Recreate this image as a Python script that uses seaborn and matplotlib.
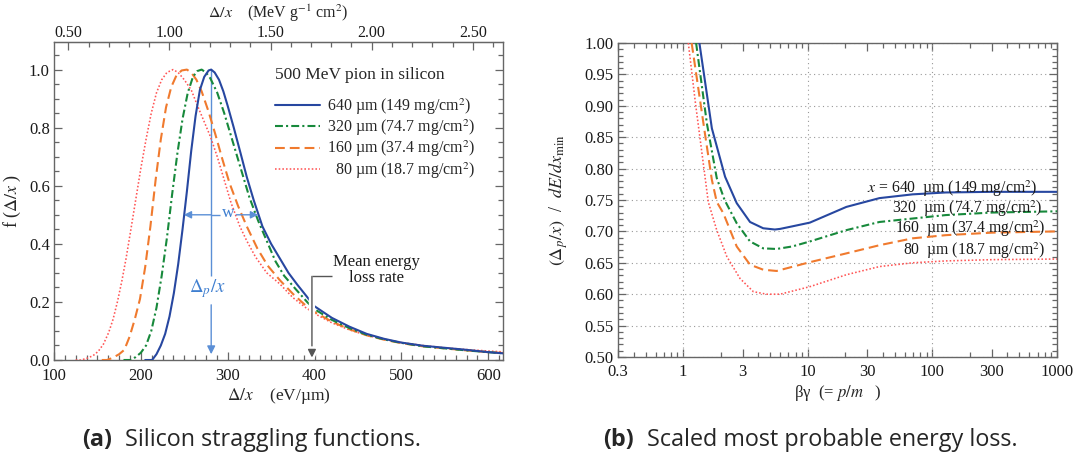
import numpy as np
import pandas as pd
import matplotlib
matplotlib.use("Agg")
import matplotlib.pyplot as plt
import matplotlib.ticker as mticker
import matplotlib.patheffects as pe
import seaborn as sns

# ---------------- Panel (a): straggling functions f(Delta/x) ----------------
thick_labels = ["640 µm (149 mg/cm$^2$)", "320 µm (74.7 mg/cm$^2$)",
                "160 µm (37.4 mg/cm$^2$)", "  80 µm (18.7 mg/cm$^2$)"]

a640_x = [205, 213, 218, 223, 228, 233, 238, 243, 248, 253, 258, 263, 268, 273, 278, 281,
          285, 290, 295, 300, 307, 315, 322, 330, 340, 350, 360, 370, 380, 392, 400, 420,
          440, 460, 480, 500, 525, 550, 575, 600, 617]
a640_f = [0.0, 0.0, 0.02, 0.05, 0.09, 0.15, 0.23, 0.33, 0.45, 0.58, 0.72, 0.84, 0.93, 0.975, 0.997, 1.0,
          0.99, 0.965, 0.925, 0.875, 0.80, 0.71, 0.63, 0.55, 0.46, 0.40, 0.35, 0.30, 0.26, 0.215, 0.185, 0.145,
          0.115, 0.09, 0.073, 0.06, 0.049, 0.042, 0.035, 0.027, 0.023]

a320_x = [180, 188, 194, 200, 206, 212, 218, 224, 230, 236, 242, 248, 254, 260, 265, 270, 275,
          280, 288, 296, 305, 315, 325, 335, 345, 355, 365, 378, 392, 400, 420, 440, 460, 480,
          500, 525, 550, 575, 600, 617]
a320_f = [0.0, 0.0, 0.01, 0.025, 0.05, 0.10, 0.18, 0.29, 0.42, 0.57, 0.71, 0.83, 0.92, 0.975, 0.995, 1.0, 0.99,
          0.97, 0.92, 0.85, 0.76, 0.66, 0.56, 0.48, 0.41, 0.34, 0.29, 0.245, 0.198, 0.175, 0.138, 0.11, 0.087, 0.071,
          0.059, 0.047, 0.04, 0.033, 0.027, 0.023]

a160_x = [155, 161, 168, 175, 181, 187, 193, 199, 205, 211, 217, 223, 229, 235, 241, 247, 253,
          258, 264, 270, 278, 286, 294, 302, 312, 322, 334, 346, 360, 375, 390, 400, 420, 440,
          460, 480, 500, 525, 550, 575, 600, 617]
a160_f = [0.0, 0.0, 0.008, 0.02, 0.035, 0.08, 0.14, 0.21, 0.32, 0.46, 0.62, 0.76, 0.87, 0.94, 0.98, 0.997, 1.0,
          0.99, 0.965, 0.925, 0.855, 0.775, 0.69, 0.61, 0.53, 0.46, 0.385, 0.325, 0.275, 0.228, 0.187, 0.165, 0.132,
          0.106, 0.085, 0.07, 0.058, 0.047, 0.04, 0.033, 0.027, 0.024]

a80_x = [125, 131, 138, 145, 151, 157, 163, 168, 173, 178, 183, 188, 194, 200, 206, 212, 218,
         224, 230, 237, 243, 250, 258, 266, 273, 280, 288, 296, 304, 314, 322, 332, 345, 360,
         375, 390, 400, 420, 440, 460, 480, 500, 525, 550, 575, 600, 617]
a80_f = [0.0, 0.0, 0.006, 0.015, 0.03, 0.055, 0.095, 0.14, 0.20, 0.27, 0.35, 0.44, 0.55, 0.66, 0.76, 0.85, 0.92,
         0.965, 0.99, 1.0, 0.99, 0.965, 0.93, 0.87, 0.82, 0.77, 0.70, 0.62, 0.54, 0.46, 0.41, 0.355, 0.30, 0.262,
         0.215, 0.18, 0.16, 0.128, 0.104, 0.085, 0.071, 0.06, 0.05, 0.042, 0.036, 0.031, 0.028]

mean_loss = 397          # eV/um, mean energy loss rate marker
w_left, w_right = 249.5, 335   # FWHM edges of the 640 um curve

# ---------------- Panel (b): scaled most probable energy loss ----------------
b640_x = [1.35, 1.70, 2.17, 2.69, 3.44, 4.39, 5.44, 6.0, 7.5, 10.4, 20.4, 37.6, 69.5, 128, 300, 558, 1000]
b640_y = [1.0, 0.864, 0.787, 0.745, 0.715, 0.705, 0.703, 0.704, 0.708, 0.714, 0.739, 0.753, 0.759, 0.762, 0.763, 0.763, 0.763]

b320_x = [1.27, 1.55, 1.86, 2.15, 2.69, 3.44, 4.39, 5.62, 7.5, 10.4, 20.4, 37.6, 128, 300, 1000]
b320_y = [1.0, 0.872, 0.785, 0.75, 0.713, 0.684, 0.673, 0.672, 0.676, 0.684, 0.702, 0.715, 0.726, 0.730, 0.732]

b160_x = [1.17, 1.50, 1.70, 1.86, 2.10, 2.69, 3.44, 4.39, 5.62, 10.4, 20.4, 37.6, 69.5, 128, 300, 1000]
b160_y = [1.0, 0.854, 0.782, 0.747, 0.729, 0.676, 0.647, 0.639, 0.637, 0.651, 0.665, 0.678, 0.689, 0.694, 0.698, 0.700]

b80_x = [1.10, 1.25, 1.41, 1.59, 1.86, 2.24, 2.86, 3.66, 4.67, 6.0, 10.4, 20.4, 37.6, 69.5, 128, 300, 1000]
b80_y = [1.0, 0.907, 0.827, 0.747, 0.702, 0.660, 0.625, 0.604, 0.600, 0.600, 0.612, 0.631, 0.644, 0.650, 0.653, 0.655, 0.656]

b_labels = ["$x$ = 640  µm (149 mg/cm$^2$)", "320  µm (74.7 mg/cm$^2$)",
            "160  µm (37.4 mg/cm$^2$)", "80  µm (18.7 mg/cm$^2$)"]

# ---------------- styles ----------------
colors = ["#2747a0", "#17893b", "#f07a2e", "#ff5555"]
styles = ["-", (0, (3.8, 1.5, 1.0, 1.5)), (0, (4.7, 2.4)), (0, (1.0, 1.3))]
widths = [1.5, 1.5, 1.5, 1.15]
light_blue = "#5b8fd6"
gray = "#555555"

sns.set_style("ticks")
plt.rcParams['font.family'] = ['Liberation Serif', 'DejaVu Serif']
plt.rcParams['mathtext.fontset'] = 'stix'
plt.rcParams['axes.edgecolor'] = '#666666'
plt.rcParams['xtick.color'] = '#666666'
plt.rcParams['ytick.color'] = '#666666'
plt.rcParams['xtick.labelcolor'] = '#1a1a1a'
plt.rcParams['ytick.labelcolor'] = '#1a1a1a'

fig = plt.figure(figsize=(10.74, 4.54), dpi=100)
axA = fig.add_axes([54 / 1074, 1 - 360 / 454, 449 / 1074, 318 / 454])
axB = fig.add_axes([618 / 1074, 1 - 357 / 454, 439 / 1074, 314 / 454])

TICK = 12

# ---------- panel (a) ----------
a_series = [(a640_x, a640_f), (a320_x, a320_f), (a160_x, a160_f), (a80_x, a80_f)]
for i in [3, 2, 1, 0]:
    x, f = a_series[i]
    sns.lineplot(x=x, y=f, ax=axA, color=colors[i], linestyle=styles[i], lw=widths[i],
                 sort=True, estimator=None, zorder=3 + (3 - i))
lines = axA.get_lines()
handles = [lines[3], lines[2], lines[1], lines[0]]

axA.set_xlim(100, 617)
axA.set_ylim(0, 1.095)
axA.xaxis.set_major_locator(mticker.MultipleLocator(100))
axA.xaxis.set_minor_locator(mticker.MultipleLocator(12.5))
axA.yaxis.set_major_locator(mticker.MultipleLocator(0.2))
axA.yaxis.set_minor_locator(mticker.MultipleLocator(0.05))
axA.yaxis.set_major_formatter(mticker.FormatStrFormatter('%.1f'))
axA.tick_params(which='both', direction='in', top=False, right=True, labelsize=TICK, width=0.9)
axA.tick_params(which='major', length=6, pad=3)
axA.tick_params(axis='x', which='major', pad=6)
axA.tick_params(which='minor', length=3.5)
for s in axA.spines.values():
    s.set_linewidth(1.0)
axA.set_xlabel(r"$\Delta/x$    (eV/µm)", fontsize=12.5, labelpad=1)
axA.set_ylabel(r"f ($\Delta/x$ )", fontsize=13)
axA.yaxis.set_label_coords(-0.07, 0.5)

conv = 0.01 / 2.329  # eV/um -> MeV g^-1 cm^2 in silicon
sec = axA.secondary_xaxis('top', functions=(lambda d: d * conv, lambda m: m / conv))
sec.xaxis.set_major_locator(mticker.FixedLocator([0.5, 1.0, 1.5, 2.0, 2.5]))
sec.xaxis.set_minor_locator(mticker.FixedLocator([v / 10 for v in range(5, 27)]))
sec.xaxis.set_major_formatter(mticker.FormatStrFormatter('%.2f'))
sec.tick_params(which='both', direction='in', labelsize=11.5, width=0.9)
sec.tick_params(which='major', length=6, pad=1)
sec.tick_params(which='minor', length=3.5)
sec.set_xlabel(r"$\Delta/x$    (MeV g$^{-1}$ cm$^{2}$)", fontsize=11.5, labelpad=5)

leg = axA.legend(handles, thick_labels, title="500 MeV pion in silicon", loc='upper left',
                 bbox_to_anchor=(0.493, 0.92), frameon=False, fontsize=11.5, title_fontsize=12.5,
                 handlelength=2.8, handletextpad=0.45, labelspacing=0.05, alignment='left',
                 borderaxespad=0, borderpad=0)
leg._legend_box.sep = 9

# most probable value arrow and width
peak = a640_x[int(np.argmax(a640_f))]
axA.vlines(peak, 0.29, max(a640_f), color=light_blue, lw=1.0, zorder=2)
axA.annotate("", xy=(peak, 0.02), xytext=(peak, 0.19),
             arrowprops=dict(arrowstyle='-|>', color=light_blue, lw=1.0, mutation_scale=12,
                             shrinkA=0, shrinkB=0), zorder=8)
axA.text(peak - 4, 0.245, r"$\Delta_p/x$", color="#3f7fd0", fontsize=13.5, ha='center', va='center')
axA.annotate("", xy=(w_left, 0.5), xytext=(peak, 0.5),
             arrowprops=dict(arrowstyle='-|>', color=light_blue, lw=1.0, mutation_scale=11,
                             shrinkA=0, shrinkB=0), zorder=8)
axA.hlines(0.5, peak, 291, color=light_blue, lw=1.0, zorder=8)
axA.text(300.5, 0.505, "w", color="#3f7fd0", fontsize=12.5, ha='center', va='center')
axA.annotate("", xy=(w_right, 0.5), xytext=(310, 0.5),
             arrowprops=dict(arrowstyle='-|>', color=light_blue, lw=1.0, mutation_scale=11,
                             shrinkA=0, shrinkB=0), zorder=8)

# mean energy loss arrow
white_gap = [pe.Stroke(linewidth=4.5, foreground='white'), pe.Normal()]
axA.annotate("", xy=(mean_loss, 0.008), xytext=(mean_loss, 0.288),
             arrowprops=dict(arrowstyle='-|>', color=gray, lw=1.0, mutation_scale=12,
                             shrinkA=0, shrinkB=0, path_effects=white_gap), zorder=9)
axA.hlines(0.288, mean_loss, 420, color=gray, lw=1.0, zorder=9)
axA.text(471, 0.31, "Mean energy\nloss rate", fontsize=12, ha='center', va='center',
         linespacing=0.95, color='#1a1a1a')

# ---------- panel (b) ----------
b_series = [(b640_x, b640_y), (b320_x, b320_y), (b160_x, b160_y), (b80_x, b80_y)]
for i in [3, 2, 1, 0]:
    x, y = b_series[i]
    sns.lineplot(x=x, y=y, ax=axB, color=colors[i], linestyle=styles[i], lw=widths[i],
                 sort=True, estimator=None, zorder=3 + (3 - i))

axB.set_xscale('log')
axB.set_xlim(0.3, 1000)
axB.set_ylim(0.5, 1.0)
xt = [0.3, 1, 3, 10, 30, 100, 300, 1000]
axB.xaxis.set_major_locator(mticker.FixedLocator(xt))
axB.xaxis.set_major_formatter(mticker.FixedFormatter(["0.3", "1", "3", "10", "30", "100", "300", "1000"]))
axB.xaxis.set_minor_locator(mticker.LogLocator(base=10, subs=(2, 4, 5, 6, 7, 8, 9), numticks=20))
axB.xaxis.set_minor_formatter(mticker.NullFormatter())
axB.yaxis.set_major_locator(mticker.MultipleLocator(0.05))
axB.yaxis.set_minor_locator(mticker.MultipleLocator(0.01))
axB.yaxis.set_major_formatter(mticker.FormatStrFormatter('%.2f'))
axB.tick_params(which='both', direction='in', top=True, right=True, labelsize=TICK, width=0.9)
axB.tick_params(which='major', length=6, pad=3)
axB.tick_params(axis='x', which='major', pad=5)
axB.tick_params(which='minor', length=3.5)
for s in axB.spines.values():
    s.set_linewidth(1.0)
axB.yaxis.grid(True, which='major', linestyle=(0, (1, 3)), color='#999999', lw=0.8)
for gx in [1, 10, 100]:
    axB.axvline(gx, linestyle=(0, (1, 3)), color='#999999', lw=0.8, zorder=1)
axB.set_xlabel(r"βγ  (= $p/m$   )", fontsize=12, labelpad=2)
axB.set_ylabel(r"$(\Delta_p/x)$  /  $dE/dx_{\rm min}$", fontsize=13)
axB.yaxis.set_label_coords(-0.11, 0.5)

label_pos = [(694, 0.761), (756, 0.730), (812, 0.697), (812, 0.662)]
for (lx, ly), txt in zip(label_pos, b_labels):
    axB.text(lx, ly, txt, fontsize=11.3, ha='right', va='baseline', color='#1a1a1a', zorder=10)

# ---------- captions ----------
cap_y = 1 - 440 / 454
fig.text(82 / 1074, cap_y, "(a)", fontsize=16.8, fontweight='bold', family='Open Sans', va='center')
fig.text(125 / 1074, cap_y, "Silicon straggling functions.", fontsize=16.8, family='Open Sans', va='center')
fig.text(603 / 1074, cap_y, "(b)", fontsize=16.8, fontweight='bold', family='Open Sans', va='center')
fig.text(647 / 1074, cap_y, "Scaled most probable energy loss.", fontsize=16.8, family='Open Sans', va='center')

fig.savefig("out.png", dpi=100)
